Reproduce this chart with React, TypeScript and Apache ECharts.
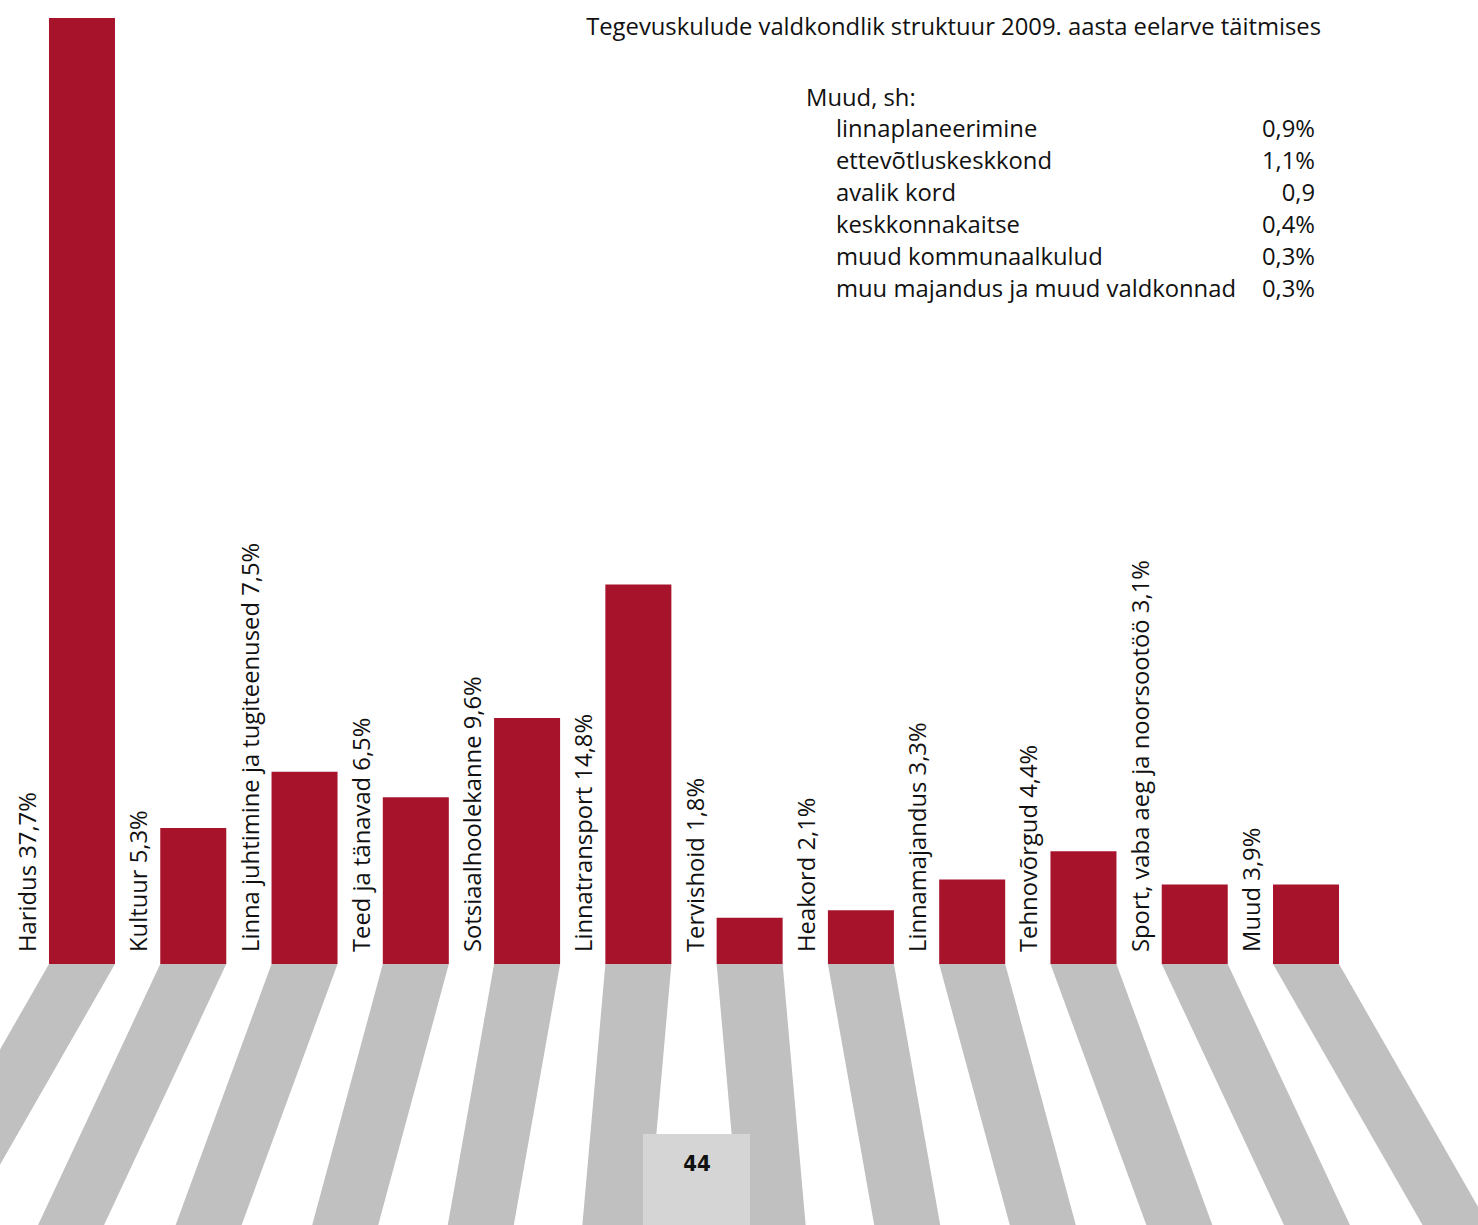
import React, { useEffect, useRef } from "react";
import * as echarts from "echarts";

const categories = [
  "Haridus",
  "Kultuur",
  "Linna juhtimine ja tugiteenused",
  "Teed ja tänavad",
  "Sotsiaalhoolekanne",
  "Linnatransport",
  "Tervishoid",
  "Heakord",
  "Linnamajandus",
  "Tehnovõrgud",
  "Sport, vaba aeg ja noorsootöö",
  "Muud",
];
const shareLabels = ["37,7%", "5,3%", "7,5%", "6,5%", "9,6%", "14,8%", "1,8%", "2,1%", "3,3%", "4,4%", "3,1%", "3,9%"];
// bar heights as drawn in the picture
const barValues = [37.7, 5.3, 7.5, 6.5, 9.6, 14.8, 1.8, 2.1, 3.3, 4.4, 3.1, 3.1];

const title = "Tegevuskulude valdkondlik struktuur 2009. aasta eelarve täitmises";
const otherHeading = "Muud, sh:";
const otherItems = [
  "linnaplaneerimine",
  "ettevõtluskeskkond",
  "avalik kord",
  "keskkonnakaitse",
  "muud kommunaalkulud",
  "muu majandus ja muud valdkonnad",
];
const otherValues = ["0,9%", "1,1%", "0,9", "0,4%", "0,3%", "0,3%"];
const pageNumber = "44";

const W = 1478;
const H = 1225;
const FONT = "'Open Sans', sans-serif";
const FS = 23.8;
const BAR_W = 66;

export default function App() {
  const ref = useRef<HTMLDivElement>(null);
  useEffect(() => {
    if (!ref.current) return;
    const chart = echarts.init(ref.current, null, { renderer: "svg" });
    const n = categories.length;

    const stripeShift = (j: number) => {
      const m = Math.abs(j) - 0.5;
      const s = 23 + 22.8 * m + 0.5 * m * m;
      return Math.sign(j) * s;
    };

    const txt = (x: number, y: number, text: string, align: string) => ({
      type: "text",
      x,
      y,
      style: {
        text,
        fontSize: FS,
        fontFamily: FONT,
        fill: "#111",
        align,
        verticalAlign: "middle",
      },
    });

    const graphic: any[] = [txt(1321, 26, title, "right"), txt(806, 97, otherHeading, "left")];
    otherItems.forEach((it, k) => {
      graphic.push(txt(836, 128 + 32 * k, it, "left"));
      graphic.push(txt(1315, 128 + 32 * k, otherValues[k], "right"));
    });
    graphic.push({
      type: "rect",
      x: 643,
      y: 1134,
      shape: { width: 107, height: 91 },
      style: { fill: "#d5d5d5" },
      z: 100,
    });
    graphic.push({
      type: "text",
      x: 697,
      y: 1163,
      style: {
        text: pageNumber,
        fontSize: 22,
        fontWeight: "bold",
        fontFamily: "'DejaVu Sans Condensed', 'DejaVu Sans', sans-serif",
        fill: "#111",
        align: "center",
        verticalAlign: "middle",
      },
      z: 101,
    });

    const idxData = categories.map((_, i) => [i, 0]);

    chart.setOption({
      animation: false,
      grid: { left: 26.35, right: 116.35, top: 18, bottom: 261, containLabel: false },
      xAxis: {
        type: "category",
        data: categories,
        show: false,
        boundaryGap: true,
      },
      yAxis: { type: "value", min: 0, max: 36.9, show: false },
      series: [
        {
          type: "custom",
          data: idxData,
          encode: { x: 0, y: 1 },
          z: 1,
          silent: true,
          renderItem: (params: any, api: any) => {
            const i = api.value(0);
            const p = api.coord([i, 0]);
            const j = i - (n - 1) / 2;
            const dy = H - p[1];
            const s = (stripeShift(j) / 261) * dy;
            const x0 = p[0] - BAR_W / 2;
            const x1 = p[0] + BAR_W / 2;
            return {
              type: "polygon",
              shape: {
                points: [
                  [x0, p[1]],
                  [x1, p[1]],
                  [x1 + s, H],
                  [x0 + s, H],
                ],
              },
              style: { fill: "#c0c0c0" },
            };
          },
        },
        {
          type: "bar",
          data: barValues,
          barWidth: BAR_W,
          clip: true,
          z: 2,
          itemStyle: { color: "#a8132c" },
        },
        {
          type: "custom",
          data: idxData,
          encode: { x: 0, y: 1 },
          z: 3,
          silent: true,
          renderItem: (params: any, api: any) => {
            const i = api.value(0);
            const p = api.coord([i, 0]);
            return {
              type: "text",
              x: p[0] - 55,
              y: p[1] - 12,
              rotation: Math.PI / 2,
              style: {
                text: `${categories[i]} ${shareLabels[i]}`,
                fontSize: FS,
                fontFamily: FONT,
                fill: "#111",
                align: "left",
                verticalAlign: "middle",
              },
            };
          },
        },
      ],
      graphic,
    });
    return () => chart.dispose();
  }, []);
  return (
    <div
      ref={ref}
      style={{ position: "fixed", left: 0, top: 0, width: W, height: H, background: "#fff" }}
    />
  );
}
